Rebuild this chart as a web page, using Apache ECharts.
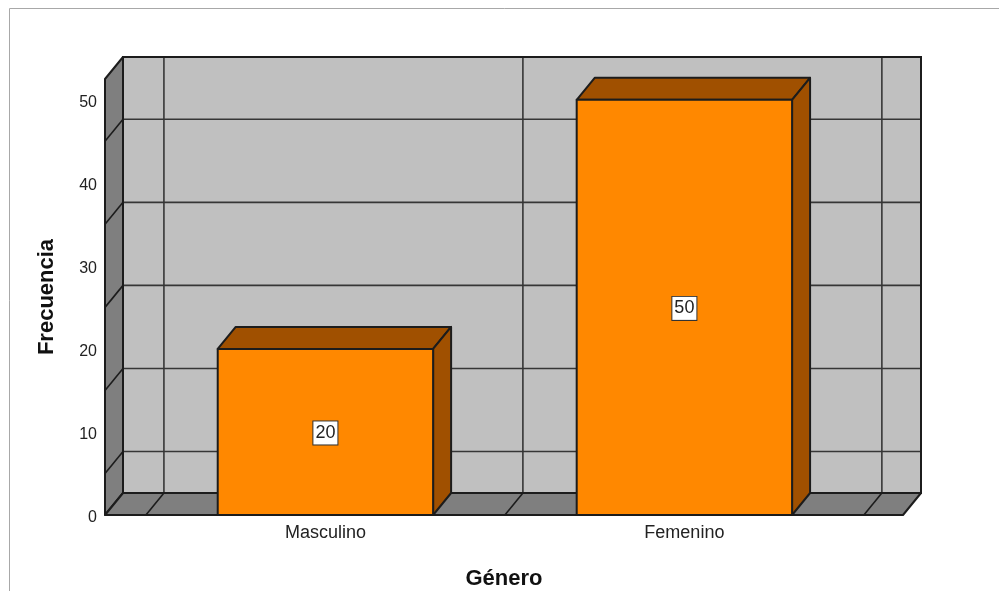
<!DOCTYPE html>
<html>
<head>
<meta charset="utf-8">
<script src="https://cdn.jsdelivr.net/npm/echarts@6/dist/echarts.min.js"></script>
<style>
  html, body { margin: 0; padding: 0; background: #fff; }
  #chart { width: 999px; height: 591px; }
</style>
</head>
<body>
<div id="chart"></div>
<script>
// datos
const categories = ['Masculino', 'Femenino'];
const frequencies = [20, 50];
const yTicks = [0, 10, 20, 30, 40, 50];
const wallGridValues = [5, 15, 25, 35, 45];
const wallDividers = [-0.5, 0.5, 1.5];

const X_MIN = -0.614;
const X_MAX = 1.609;
const Y_MAX = 52.5;
const DX = 18;   // profundidad 3D
const DY = -22;
const BAR_W = 0.6;
const EDGE = '#1c1c1c';
const FONT = '"Liberation Sans", Arial, sans-serif';

let chart = echarts.init(document.getElementById('chart'), null, { renderer: 'canvas' });

function renderWalls(params, api) {
  const fl = api.coord([X_MIN, 0]);
  const fr = api.coord([X_MAX, 0]);
  const tl = api.coord([X_MIN, Y_MAX]);
  const back = { x: fl[0] + DX, y: tl[1] + DY, width: fr[0] - fl[0], height: fl[1] - tl[1] };
  const children = [];

  children.push({ type: 'rect', shape: back, style: { fill: '#c0c0c0' } });

  // lineas de la pared del fondo
  wallGridValues.forEach((v) => {
    const p = api.coord([X_MIN, v]);
    const q = api.coord([X_MAX, v]);
    children.push({
      type: 'line',
      shape: { x1: p[0] + DX, y1: p[1] + DY, x2: q[0] + DX, y2: q[1] + DY },
      style: { stroke: '#363636', lineWidth: 1.6 },
    });
  });
  wallDividers.forEach((c) => {
    const p = api.coord([c, 0]);
    const t = api.coord([c, Y_MAX]);
    children.push({
      type: 'line',
      shape: { x1: p[0] + DX, y1: p[1] + DY, x2: t[0] + DX, y2: t[1] + DY },
      style: { stroke: '#363636', lineWidth: 1.6 },
    });
  });
  children.push({ type: 'rect', shape: back, style: { fill: 'none', stroke: EDGE, lineWidth: 2 } });

  // pared lateral
  children.push({
    type: 'polygon',
    shape: { points: [fl, [fl[0] + DX, fl[1] + DY], [tl[0] + DX, tl[1] + DY], tl] },
    style: { fill: '#7f7f7f', stroke: EDGE, lineWidth: 2, lineJoin: 'round' },
  });
  // suelo
  children.push({
    type: 'polygon',
    shape: { points: [fl, fr, [fr[0] + DX, fr[1] + DY], [fl[0] + DX, fl[1] + DY]] },
    style: { fill: '#7f7f7f', stroke: EDGE, lineWidth: 2, lineJoin: 'round' },
  });

  wallGridValues.forEach((v) => {
    const p = api.coord([X_MIN, v]);
    children.push({
      type: 'line',
      shape: { x1: p[0], y1: p[1], x2: p[0] + DX, y2: p[1] + DY },
      style: { stroke: EDGE, lineWidth: 1.6 },
    });
  });
  wallDividers.forEach((c) => {
    const p = api.coord([c, 0]);
    children.push({
      type: 'line',
      shape: { x1: p[0], y1: p[1], x2: p[0] + DX, y2: p[1] + DY },
      style: { stroke: EDGE, lineWidth: 1.6 },
    });
  });

  return { type: 'group', children };
}

function renderBar(params, api) {
  const x = api.value(0);
  const v = api.value(1);
  const base = api.coord([x, 0]);
  const top = api.coord([x, v]);
  const hw = api.size([BAR_W, 0])[0] / 2;
  const L = base[0] - hw, R = base[0] + hw, T = top[1], B = base[1];
  const edge = { stroke: EDGE, lineWidth: 2, lineJoin: 'round' };
  return {
    type: 'group',
    children: [
      {
        type: 'polygon',
        shape: { points: [[L, T], [L + DX, T + DY], [R + DX, T + DY], [R, T]] },
        style: Object.assign({ fill: '#a05000' }, edge),
      },
      {
        type: 'polygon',
        shape: { points: [[R, T], [R + DX, T + DY], [R + DX, B + DY], [R, B]] },
        style: Object.assign({ fill: '#a05000' }, edge),
      },
      {
        type: 'rect',
        shape: { x: L, y: T, width: R - L, height: B - T },
        style: Object.assign({ fill: '#ff8800' }, edge),
      },
      {
        type: 'text',
        x: base[0],
        y: (T + B) / 2 + 1,
        style: {
          text: String(v),
          align: 'center',
          verticalAlign: 'middle',
          fill: '#222',
          font: '18px ' + FONT,
          backgroundColor: '#fff',
          borderColor: '#333',
          borderWidth: 1,
          padding: [3, 2, 2, 2],
        },
      },
    ],
  };
}

let option = {
  animation: false,
  graphic: [
    {
      type: 'rect',
      x: 0,
      y: 0,
      shape: { x: 9.5, y: 8.5, width: 1000, height: 600 },
      style: { fill: 'none', stroke: '#a8a8a8', lineWidth: 1 },
      z: -10,
    },
  ],
  grid: {
    left: 105,
    right: 96,
    top: 79,
    bottom: 76,
    containLabel: false,
    outerBoundsMode: 'none',
  },
  xAxis: {
    type: 'value',
    min: X_MIN,
    max: X_MAX,
    name: 'Género',
    nameLocation: 'middle',
    nameGap: 53,
    nameTextStyle: { fontFamily: FONT, fontSize: 22, fontWeight: 'bold', color: '#111' },
    axisLine: { show: false },
    axisTick: { show: false },
    splitLine: { show: false },
    axisLabel: {
      customValues: [0, 1],
      formatter: (val) => categories[Math.round(val)],
      margin: 9,
      fontFamily: FONT,
      fontSize: 18,
      color: '#222',
    },
  },
  yAxis: {
    type: 'value',
    min: 0,
    max: Y_MAX,
    interval: 10,
    name: 'Frecuencia',
    nameLocation: 'middle',
    nameGap: 47,
    nameTextStyle: { fontFamily: FONT, fontSize: 22, fontWeight: 'bold', color: '#111' },
    axisLine: { show: false },
    axisTick: { show: false },
    splitLine: { show: false },
    axisLabel: {
      customValues: yTicks,
      margin: 8,
      formatter: (val) => '{t|' + val + '}',
      rich: {
        t: {
          fontFamily: FONT,
          fontSize: 16,
          color: '#222',
          padding: [5, 0, 0, 0],
        },
      },
    },
  },
  series: [
    {
      type: 'custom',
      renderItem: renderWalls,
      data: [[0, 0]],
      silent: true,
      z: 1,
    },
    {
      type: 'custom',
      renderItem: renderBar,
      data: categories.map((c, i) => [i, frequencies[i]]),
      z: 2,
    },
  ],
};

chart.setOption(option);
</script>
</body>
</html>
